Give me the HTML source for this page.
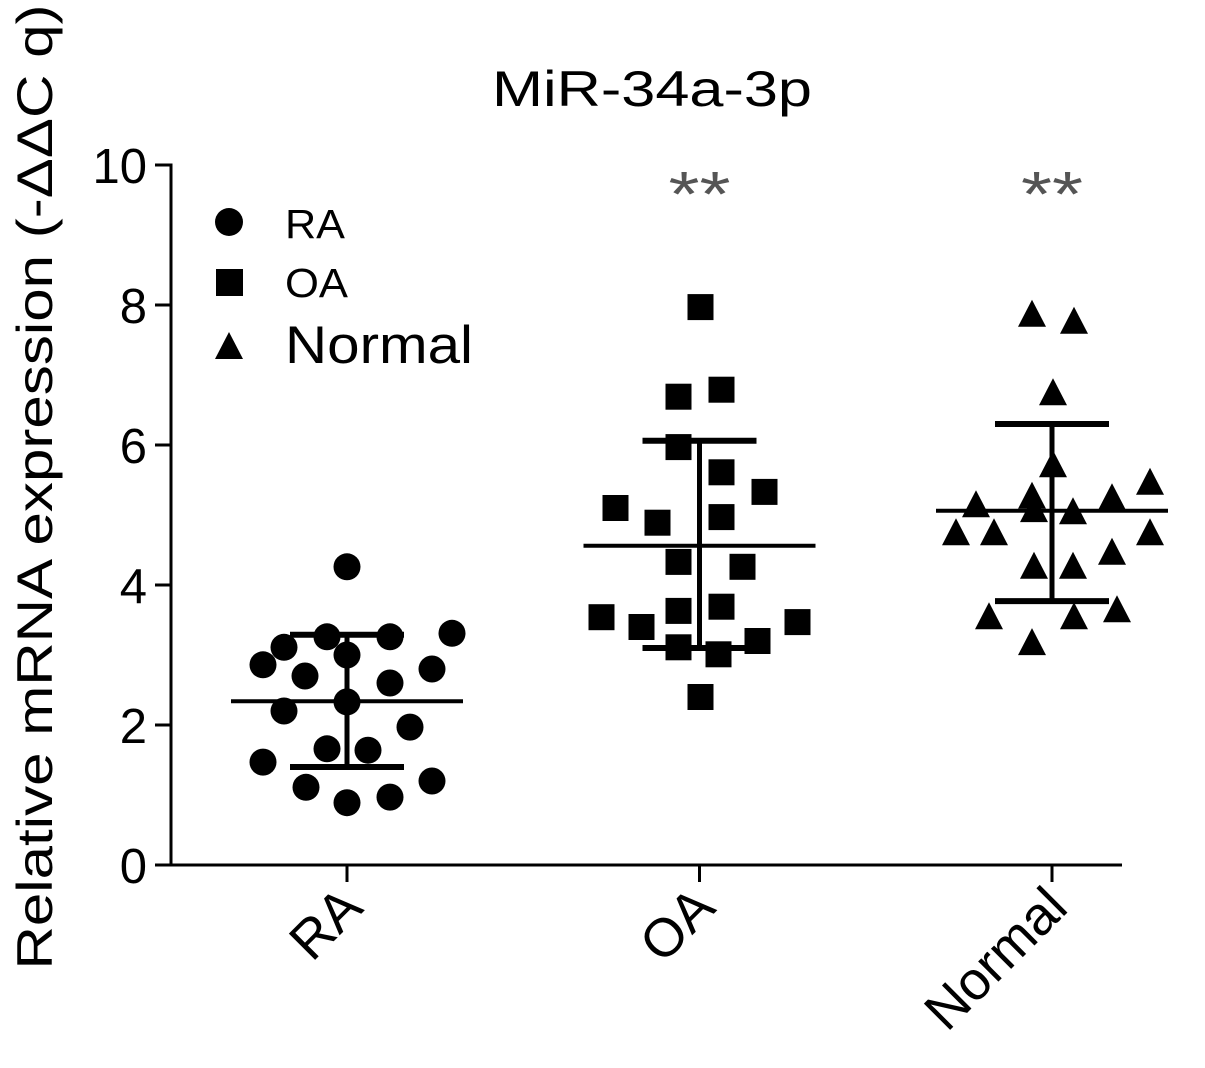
<!DOCTYPE html>
<html><head><meta charset="utf-8"><style>
html,body{margin:0;padding:0;background:#fff;}
svg{display:block;font-family:"Liberation Sans",Arial,sans-serif;}
</style></head><body>
<svg id="chart" width="1205" height="1068" viewBox="0 0 1205 1068" xmlns="http://www.w3.org/2000/svg">
<rect width="1205" height="1068" fill="#fff"/>
<text x="652" y="106" font-size="50" text-anchor="middle" textLength="320" lengthAdjust="spacingAndGlyphs">MiR-34a-3p</text>
<text transform="translate(52,487) rotate(-90)" font-size="50" text-anchor="middle" textLength="965" lengthAdjust="spacingAndGlyphs">Relative mRNA expression (-ΔΔC q)</text>
<g id="axes"></g>
<g id="marks"></g>
<g>
 <circle cx="229" cy="222" r="14" fill="#000"/>
 <text x="285" y="238" font-size="41" textLength="60" lengthAdjust="spacingAndGlyphs">RA</text>
 <rect x="216" y="269" width="27" height="27" fill="#000"/>
 <text x="285" y="297" font-size="41" textLength="63" lengthAdjust="spacingAndGlyphs">OA</text>
 <polygon points="229,332 243,359 215,359" fill="#000"/>
 <text x="285" y="363" font-size="53" textLength="188" lengthAdjust="spacingAndGlyphs">Normal</text>
</g>
</svg>
<script>
const categories = ["RA", "OA", "Normal"];
const yTicks = [0, 2, 4, 6, 8, 10];
const raValues = [4.26,3.31,3.26,3.26,3.11,3.0,2.86,2.80,2.70,2.60,2.33,2.20,1.97,1.66,1.64,1.47,1.20,1.11,0.97,0.89];
const raJitter = [0,105,-20,43,-63,0,-84,85,-42,43,0,-63,63,-20,21,-84,85,-41,43,0];
const oaValues = [7.97,6.69,6.79,5.97,5.61,5.33,5.10,4.89,4.97,4.33,4.26,3.54,3.40,3.63,3.69,3.47,3.11,3.01,3.20,2.40];
const oaJitter = [1,-21,22,-21,22,65,-84,-42,22,-21,43,-98,-58,-21,22,98,-21,19,58,1];
const normalValues = [7.86,7.76,6.74,5.71,5.46,5.14,5.26,5.04,5.24,5.07,4.74,4.74,4.74,4.46,4.26,4.26,3.54,3.54,3.64,3.17];
const normalJitter = [-20,22,1,1,98,-76,-20,21,60,-18,-96,-58,98,60,-18,21,-63,22,65,-20];
const means = [2.34, 4.56, 5.06];
const sdUpper = [3.29, 6.06, 6.30];
const sdLower = [1.40, 3.10, 3.77];
const significance = ["", "**", "**"];

const NS = "http://www.w3.org/2000/svg";
const y = v => 865 - v * 70;
const x = i => 347 + i * 352.5;
function mk(tag, attrs, parent){const e=document.createElementNS(NS,tag);for(const k in attrs)e.setAttribute(k,attrs[k]);parent.appendChild(e);return e;}
const axes = document.getElementById("axes");
const marks = document.getElementById("marks");

let l = mk("line",{x1:171,y1:y(10)-1.5,x2:171,y2:866.5,stroke:"#000","stroke-width":3},axes);


l = mk("line",{x1:169.5,y1:865,x2:1122,y2:865,stroke:"#000","stroke-width":3},axes);


yTicks.forEach(t=>{
  const tk = mk("line",{x1:155,y1:y(t),x2:171,y2:y(t),stroke:"#000","stroke-width":3},axes);
  
  
  const tx = mk("text",{x:147,y:y(t)+18,"font-size":49,"text-anchor":"end"},axes);
  
  
  tx.textContent = t;
});
categories.forEach((c,i)=>{
  const tk = mk("line",{x1:x(i),y1:865,x2:x(i),y2:882,stroke:"#000","stroke-width":3},axes);
  
  
  const tx = mk("text",{transform:`translate(${x(i)+18},910) rotate(-45)`,"font-size":54,"text-anchor":"end"},axes);
  
  
  tx.textContent = c;
});

const series = [raValues, oaValues, normalValues];
const jitters = [raJitter, oaJitter, normalJitter];
series.forEach((vals,i)=>{
  vals.forEach((v,j)=>{
    const cx = x(i)+jitters[i][j], cy = y(v);
    let e;
    if(i===0) e = mk("circle",{cx:cx,cy:cy,r:13.5,fill:"#000"},marks);
    else if(i===1) e = mk("rect",{x:cx-13,y:cy-13,width:26,height:26,fill:"#000"},marks);
    else e = mk("polygon",{points:`${cx},${cy-15} ${cx+14},${cy+12} ${cx-14},${cy+12}`,fill:"#000"},marks);
    
    
  });
});
categories.forEach((c,i)=>{
  const cx = x(i);
  let e = mk("line",{x1:cx-116,y1:y(means[i]),x2:cx+116,y2:y(means[i]),stroke:"#000","stroke-width":4},marks);
  
  
  e = mk("line",{x1:cx,y1:y(sdUpper[i]),x2:cx,y2:y(sdLower[i]),stroke:"#000","stroke-width":5},marks);
  
  
  e = mk("line",{x1:cx-57,y1:y(sdUpper[i]),x2:cx+57,y2:y(sdUpper[i]),stroke:"#000","stroke-width":6},marks);
  
  
  e = mk("line",{x1:cx-57,y1:y(sdLower[i]),x2:cx+57,y2:y(sdLower[i]),stroke:"#000","stroke-width":6},marks);
  
  
  if(significance[i]){
    e = mk("text",{x:cx,y:216,"font-size":64,"text-anchor":"middle",fill:"#555",textLength:62,lengthAdjust:"spacingAndGlyphs"},marks);
    
    
    e.textContent = significance[i];
  }
});
</script>
</body></html>
